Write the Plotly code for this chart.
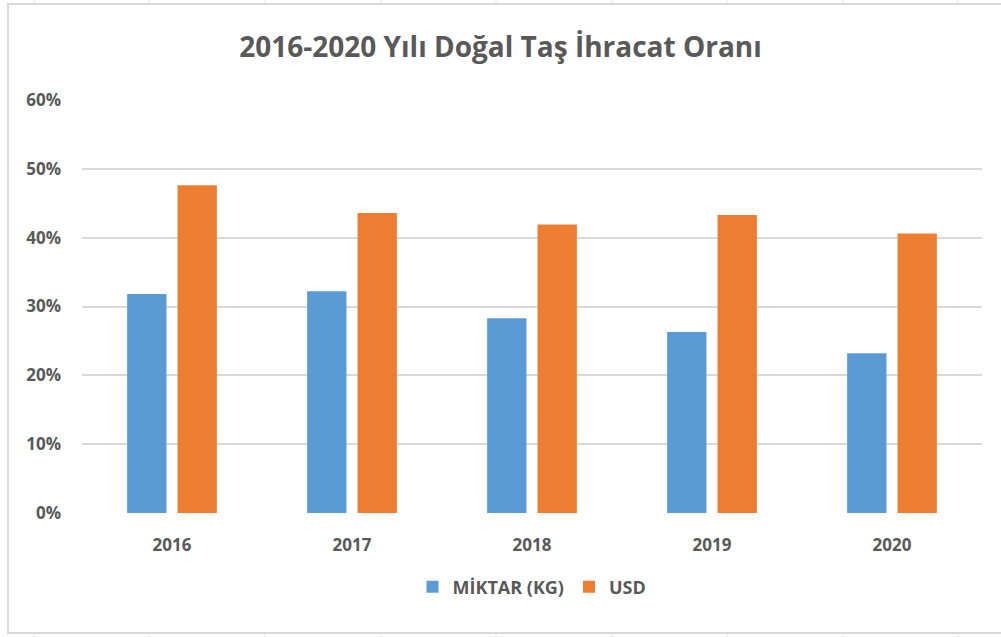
import plotly.graph_objects as go

years = ["2016", "2017", "2018", "2019", "2020"]
miktar = [0.318, 0.322, 0.283, 0.263, 0.232]
usd = [0.476, 0.436, 0.419, 0.433, 0.406]
y_ticks = [0, 0.1, 0.2, 0.3, 0.4, 0.5, 0.6]
y_labels = ["0%", "10%", "20%", "30%", "40%", "50%", "60%"]

W, H = 1001, 637
L, R, T, B = 82, 19, 100, 124
pw, ph = W - L - R, H - T - B

def px(x):
    return (x - L) / pw

def py(y):
    return 1 - (y - T) / ph

fig = go.Figure()
fig.add_trace(go.Bar(name="MİKTAR (KG)", x=years, y=miktar, marker=dict(color="#5b9bd5", line=dict(width=0))))
fig.add_trace(go.Bar(name="USD", x=years, y=usd, marker=dict(color="#ed7d31", line=dict(width=0))))

font_fam = "Open Sans, Lato, sans-serif"
fig.update_layout(
    width=W, height=H,
    margin=dict(l=L, r=R, t=T, b=B),
    paper_bgcolor="white", plot_bgcolor="white",
    barmode="group", bargap=0.44, bargroupgap=0.22,
    title=dict(text="<b>2016-2020 Yılı Doğal Taş İhracat Oranı</b>", x=0.5, xanchor="center",
               y=1 - 47 / H, yanchor="middle",
               font=dict(family=font_fam, size=28, color="#595959")),
    xaxis=dict(showgrid=False, showline=False, ticks="", zeroline=False,
               tickfont=dict(family=font_fam, size=17, color="#595959", weight="bold"),
               ticklabelstandoff=20),
    yaxis=dict(range=[0, 0.6], tickvals=y_ticks, ticktext=y_labels, showgrid=True,
               gridcolor="#d9d9d9", gridwidth=1.5, zeroline=False, showline=False,
               tickfont=dict(family=font_fam, size=17, color="#595959", weight="bold"),
               ticklabelstandoff=20),
    legend=dict(orientation="h", x=0.5, xanchor="center", y=py(587), yanchor="middle",
                font=dict(family=font_fam, size=18, color="#595959", weight="bold"),
                traceorder="normal"),
    showlegend=True,
)
# chart frame
fig.add_shape(type="rect", xref="paper", yref="paper", x0=px(8), x1=px(1006), y0=py(633), y1=py(4),
              line=dict(color="#d9d9d9", width=2), layer="below")
# spreadsheet cell lines outside the chart frame
for cx in [34, 149, 265, 381, 496, 612, 727, 843, 958]:
    fig.add_shape(type="line", xref="paper", yref="paper", x0=px(cx), x1=px(cx), y0=py(0), y1=py(3),
                  line=dict(color="#e3e3e3", width=1), layer="below")
    fig.add_shape(type="line", xref="paper", yref="paper", x0=px(cx), x1=px(cx), y0=py(634), y1=py(637),
                  line=dict(color="#e3e3e3", width=1), layer="below")
fig.write_html("out.html", config={"displayModeBar": False},
               post_script="document.body.style.margin='0';document.body.style.overflow='hidden';")
